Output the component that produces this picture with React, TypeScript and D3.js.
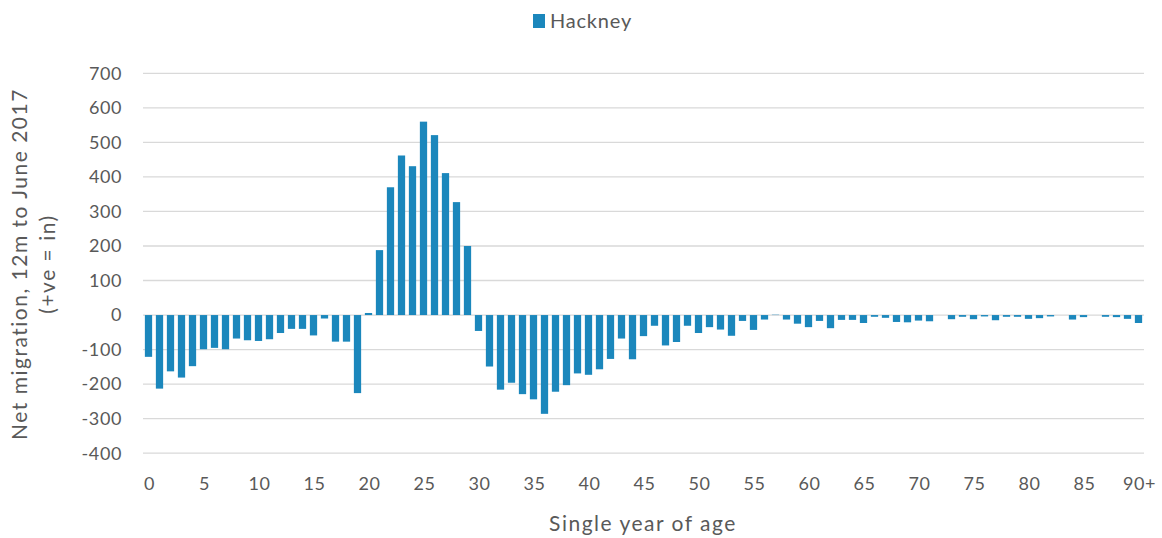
import React from "react";
import * as d3 from "d3";

const ages: string[] = Array.from({ length: 91 }, (_, i) => (i === 90 ? "90+" : String(i)));
const netMigration: number[] = [
  -121, -213, -163, -181, -148, -99, -95, -99, -68, -73,
  -75, -70, -52, -40, -40, -59, -10, -77, -77, -226,
  6, 188, 370, 462, 431, 560, 521, 411, 327, 200,
  -46, -149, -216, -196, -229, -244, -286, -222, -203, -169,
  -173, -157, -127, -68, -128, -61, -31, -88, -78, -31,
  -52, -35, -42, -60, -17, -43, -13, 1, -13, -25,
  -35, -17, -38, -14, -14, -23, -5, -8, -20, -21,
  -16, -18, 0, -12, -5, -12, -4, -15, -5, -5,
  -11, -9, -4, 0, -13, -6, 0, -5, -6, -11,
  -23,
];
const yTicks: number[] = [700, 600, 500, 400, 300, 200, 100, 0, -100, -200, -300, -400];
const seriesName = "Hackney";
const yTitle1 = "Net migration, 12m to June 2017";
const yTitle2 = "(+ve = in)";
const xTitle = "Single year of age";

export default function App() {
  const W = 1162, H = 538;
  const left = 143, right = 1144, top = 73.3, bottom = 453.2;
  const x = d3.scaleBand<string>().domain(ages).range([left, right]).paddingInner(0.34).paddingOuter(0.17);
  const y = d3.scaleLinear().domain([-400, 700]).range([bottom, top]);
  const color = "#1B87BC";
  const font = "Lato, 'Open Sans', sans-serif";
  const textColor = "#595959";
  return (
    <svg width={W} height={H} style={{ position: "absolute", left: 0, top: 0, background: "#fff" }}>
      {yTicks.map((t) => (
        <g key={t}>
          <line x1={left} x2={right} y1={y(t)} y2={y(t)} stroke="#d9d9d9" strokeWidth={1.3} />
          <text x={122} y={y(t)} dy="0.35em" textAnchor="end" fontSize={18} letterSpacing={0.6} fill={textColor} fontFamily={font}>
            {t}
          </text>
        </g>
      ))}
      {netMigration.map((v, i) => (
        <rect
          key={i}
          x={x(ages[i])!}
          width={x.bandwidth()}
          y={Math.min(y(v), y(0))}
          height={Math.abs(y(v) - y(0))}
          fill={color}
        />
      ))}
      {ages.map((a, i) =>
        i % 5 === 0 ? (
          <text key={a} x={x(a)! + x.bandwidth() / 2 + 1} y={490} textAnchor="middle" fontSize={18} letterSpacing={0.6} fill={textColor} fontFamily={font}>
            {a}
          </text>
        ) : null
      )}
      <text x={643} y={531} textAnchor="middle" fontSize={21} letterSpacing={1.5} fill={textColor} fontFamily={font}>
        {xTitle}
      </text>
      <g transform={`translate(27, 264) rotate(-90)`}>
        <text x={0} y={0} textAnchor="middle" fontSize={21} letterSpacing={1.5} fill={textColor} fontFamily={font}>
          {yTitle1}
        </text>
        <text x={0} y={28} textAnchor="middle" fontSize={21} letterSpacing={1.5} fill={textColor} fontFamily={font}>
          {yTitle2}
        </text>
      </g>
      <rect x={533} y={14} width={12} height={14} fill={color} />
      <text x={550} y={21} dy="0.35em" fontSize={20} letterSpacing={0.8} fill={textColor} fontFamily={font}>
        {seriesName}
      </text>
    </svg>
  );
}
